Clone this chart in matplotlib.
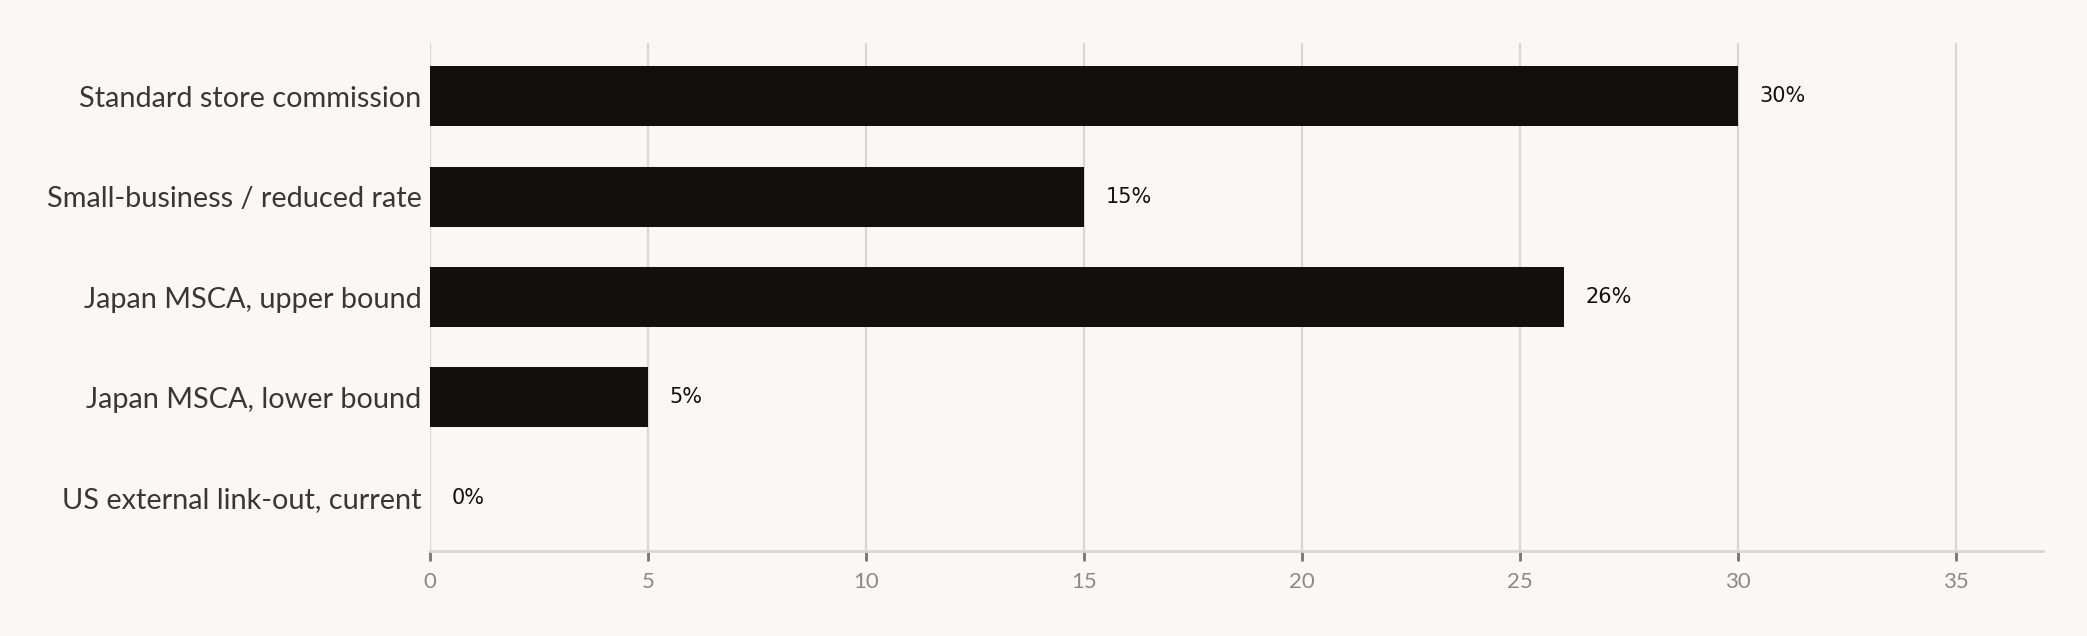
import matplotlib.pyplot as plt

# data
categories = ["Standard store commission", "Small-business / reduced rate",
              "Japan MSCA, upper bound", "Japan MSCA, lower bound",
              "US external link-out, current"]
rates = [30, 15, 26, 5, 0]
x_ticks = [0, 5, 10, 15, 20, 25, 30, 35]

bg = "#faf7f4"
bar_col = "#12100e"
grid_col = "#dcd6d0"

fig = plt.figure(figsize=(20.87, 6.36), dpi=100, facecolor=bg)
ax = fig.add_axes([0.206, 0.134, 0.773, 0.798], facecolor=bg)

ypos = list(range(len(categories)))
ax.barh(ypos, rates, height=0.6, color=bar_col, zorder=3)

for y, v in zip(ypos, rates):
    ax.text(v + 0.5, y, f"{v}%", va="center", ha="left",
            fontsize=15, color="#111111", family="DejaVu Sans", zorder=4)

ax.set_xlim(0, 37)
ax.set_ylim(len(categories) - 0.47, -0.53)
ax.set_yticks(ypos)
ax.set_yticklabels(categories, family="Lato", fontsize=20.8, color="#3a3633")
ax.set_xticks(x_ticks)
ax.set_xticklabels([str(t) for t in x_ticks], family="Lato", fontsize=16, color="#8f8985")

ax.tick_params(axis="y", length=0, pad=6)
ax.tick_params(axis="x", length=7, width=2, color="#7a7470", pad=8)
ax.grid(axis="x", color=grid_col, linewidth=1.6, zorder=0)
ax.grid(axis="y", visible=False)

for s in ["top", "right", "left"]:
    ax.spines[s].set_visible(False)
ax.spines["bottom"].set_color(grid_col)
ax.spines["bottom"].set_linewidth(2)

fig.savefig("out.png", dpi=100, facecolor=bg)
